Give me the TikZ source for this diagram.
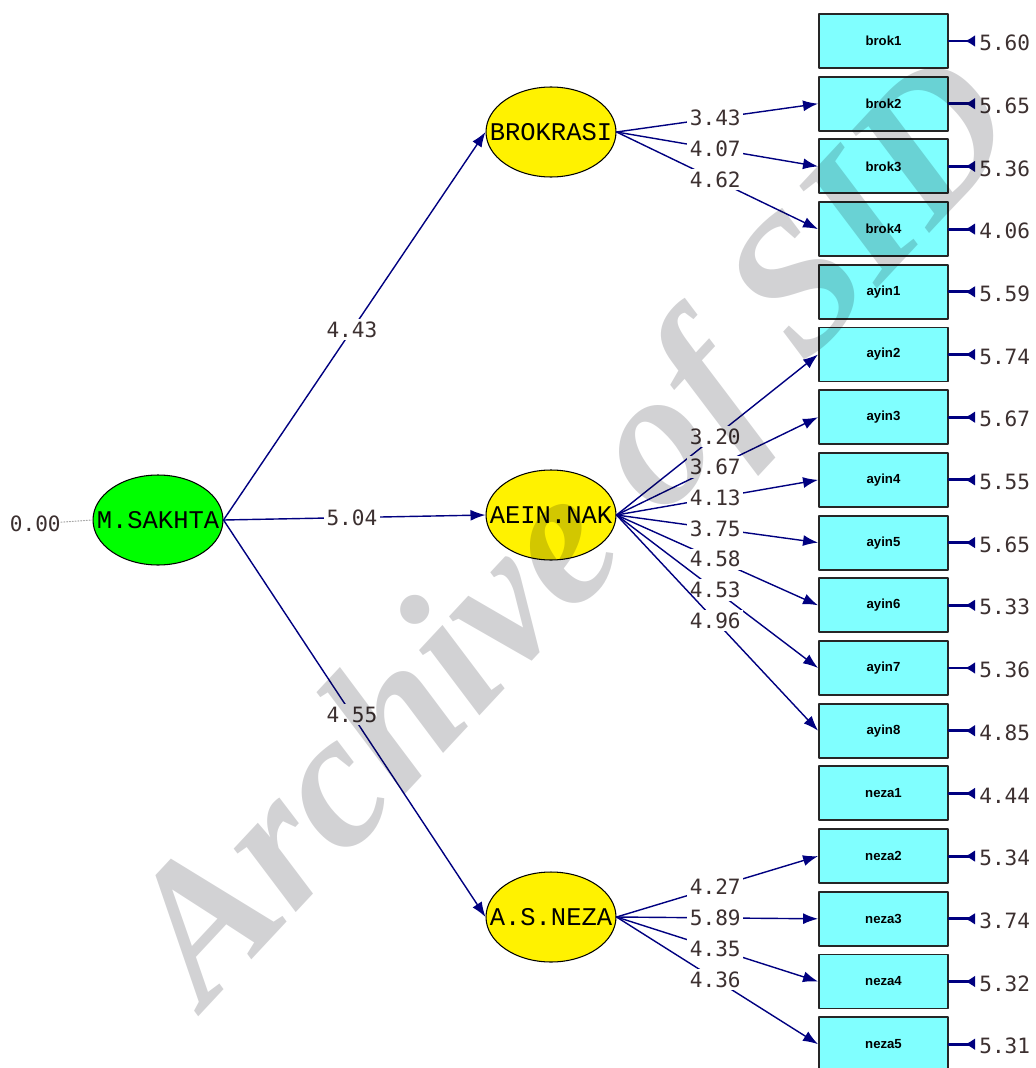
\documentclass[tikz,border=0pt]{standalone}
\usepackage{fontspec}
\usepackage{tikz}
\usetikzlibrary{arrows.meta,positioning,shapes.geometric}
\newfontfamily\semnum{DejaVu Sans Mono}
\newfontfamily\semlat{Liberation Mono}
\newfontfamily\semobs{Liberation Sans}
\newfontfamily\semmark{Liberation Serif}
\definecolor{semnavy}{RGB}{0,0,128}
\definecolor{semcyan}{RGB}{128,255,255}
\definecolor{semtext}{RGB}{60,48,48}
\definecolor{semgray}{RGB}{210,210,212}
\tikzset{
  every picture/.append style={line cap=round,line join=round},
  sem latent/.style={ellipse,draw=black,line width=0.6pt,minimum width=2.6cm,minimum height=1.8cm,inner sep=0pt,
    font=\semlat\fontsize{14.5}{15}\selectfont},
  sem exo/.style={sem latent,fill=green},
  sem endo/.style={sem latent,fill=yellow},
  sem obs/.style={rectangle,draw=black!85,line width=1.1pt,fill=semcyan,minimum width=2.58cm,minimum height=1.08cm,
    inner sep=0pt,font=\semobs\fontsize{7.5}{8}\selectfont\bfseries},
  sem path/.style={semnavy,line width=0.8pt,-{Latex[length=3mm,width=2.2mm]}},
  sem err/.style={semnavy,line width=1.6pt,{Latex[reversed,length=2mm,width=2.4mm]}-},
  sem load/.style={fill=white,inner sep=1.5pt,text=semtext,font=\semnum\fontsize{12}{12}\selectfont},
  sem value/.style={text=semtext,inner sep=0pt,font=\semnum\fontsize{12}{12}\selectfont},
  sem mark/.style={text=semgray,inner sep=0pt,font=\semmark\fontsize{110}{116}\selectfont\bfseries\itshape}
}
\begin{document}
\begin{tikzpicture}[x=0.02cm,y=-0.02cm]
  \useasboundingbox (0,0) rectangle (1035,1068);
  % latent variables
  \node[sem exo] (msak) at (158,520) {\makebox[0pt]{M.SAKHTA}};
  \node[sem endo] (brok) at (551,132) {\makebox[0pt]{BROKRASI}};
  \node[sem endo] (aein) at (551,515) {\makebox[0pt]{AEIN.NAK}};
  \node[sem endo] (neza) at (551,917) {\makebox[0pt]{A.S.NEZA}};
  \node[sem value,anchor=east] (zero) at (61,524) {0.00};
  \draw[gray!70,densely dotted,line width=0.6pt] (zero) -- (msak.west);
  % observed variables with their error terms
  \foreach \obs/\err [count=\i from 0] in {brok1/5.60,brok2/5.65,brok3/5.36,brok4/4.06,
      ayin1/5.59,ayin2/5.74,ayin3/5.67,ayin4/5.55,ayin5/5.65,ayin6/5.33,ayin7/5.36,ayin8/4.85,
      neza1/4.44,neza2/5.34,neza3/3.74,neza4/5.32,neza5/5.31} {
    \node[sem obs] (\obs) at (883.5,{41+62.7*\i}) {\obs};
    \coordinate (\obs-e) at (975,{41+62.7*\i});
    \node[sem value,anchor=west] (\obs-v) at (979,{43+62.7*\i}) {\err};
    \draw[sem err] (\obs-e) -- (\obs.east);
  }
  % structural paths
  \foreach \lat/\val in {brok/4.43,aein/5.04,neza/4.55}
    \draw[sem path] (msak.east) -- node[sem load,pos=0.49] {\val} (\lat.west);
  % loadings
  \foreach \lat/\obs/\val in {brok/brok2/3.43,brok/brok3/4.07,brok/brok4/4.62,
      aein/ayin2/3.20,aein/ayin3/3.67,aein/ayin4/4.13,aein/ayin5/3.75,aein/ayin6/4.58,aein/ayin7/4.53,aein/ayin8/4.96,
      neza/neza2/4.27,neza/neza3/5.89,neza/neza4/4.35,neza/neza5/4.36}
    \draw[sem path] (\lat.east) -- node[sem load,pos=0.49] {\val} (\obs.west);
  % watermark
  \begin{scope}[blend mode=multiply]
    \node[sem mark,rotate=47,anchor=base west] (mark) at (205,1010) {Archive of SID};
  \end{scope}
\end{tikzpicture}
\end{document}
